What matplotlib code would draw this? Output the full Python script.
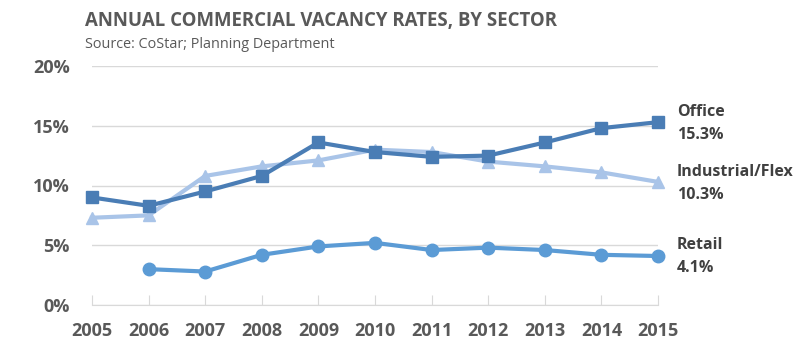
import matplotlib
matplotlib.use("Agg")
import matplotlib.pyplot as plt
import numpy as np

years = [2005, 2006, 2007, 2008, 2009, 2010, 2011, 2012, 2013, 2014, 2015]
office = [9.0, 8.3, 9.5, 10.8, 13.6, 12.8, 12.4, 12.5, 13.6, 14.8, 15.3]
industrial = [7.3, 7.5, 10.8, 11.6, 12.1, 13.0, 12.8, 12.0, 11.6, 11.1, 10.3]
retail = [np.nan, 3.0, 2.8, 4.2, 4.9, 5.2, 4.6, 4.8, 4.6, 4.2, 4.1]
yticks = [0, 5, 10, 15, 20]

plt.rcParams['font.family'] = ['Open Sans', 'DejaVu Sans']
gray = '#595959'

fig = plt.figure(figsize=(8.01, 3.51), dpi=100)
ax = fig.add_axes([92/801, 1-305/351, (658-92)/801, (305-66)/351])

c_off = '#4a7db5'
c_ind = '#a9c4e8'
c_ret = '#5b9bd5'
ax.plot(years, industrial, color=c_ind, lw=3, marker='^', ms=9, clip_on=False, zorder=3)
ax.plot(years, office, color=c_off, lw=3, marker='s', ms=9, clip_on=False, zorder=4)
ax.plot(years, retail, color=c_ret, lw=3, marker='o', ms=9, clip_on=False, zorder=3)

ax.set_xlim(2005, 2015)
ax.set_ylim(0, 20)
ax.set_yticks(yticks)
ax.set_yticklabels([f"{t}%" for t in yticks])
ax.set_xticks(years)
ax.set_xticklabels([str(y) for y in years])
for s in ['top', 'right', 'left']:
    ax.spines[s].set_visible(False)
ax.spines['bottom'].set_color('#d9d9d9')
ax.grid(axis='y', color='#d9d9d9', lw=1)
ax.set_axisbelow(True)
ax.tick_params(axis='y', length=0, pad=16, labelsize=13, labelcolor=gray)
ax.tick_params(axis='x', direction='in', length=7, color='#d9d9d9', pad=12, labelsize=13, labelcolor=gray)
for lbl in ax.get_xticklabels() + ax.get_yticklabels():
    lbl.set_fontweight('bold')

labels = [("Office", office[-1]), ("Industrial/Flex", industrial[-1]), ("Retail", retail[-1])]
ypos = {"Office": 124, "Industrial/Flex": 184, "Retail": 257}
for name, val in labels:
    yc = ypos[name]
    fig.text(677/801, 1-(yc-12)/351, name, fontsize=11.5, fontweight='bold', color='#404040', va='center', ha='left')
    fig.text(677/801, 1-(yc+11)/351, f"{val:.1f}%", fontsize=11.5, fontweight='bold', color='#404040', va='center', ha='left')

fig.text(85/801, 1-21/351, "ANNUAL COMMERCIAL VACANCY RATES, BY SECTOR", fontsize=13.4, fontweight='bold', color=gray, va='center', ha='left')
fig.text(85/801, 1-45/351, "Source: CoStar; Planning Department", fontsize=10.4, color=gray, va='center', ha='left')

fig.savefig("out.png", dpi=100)
